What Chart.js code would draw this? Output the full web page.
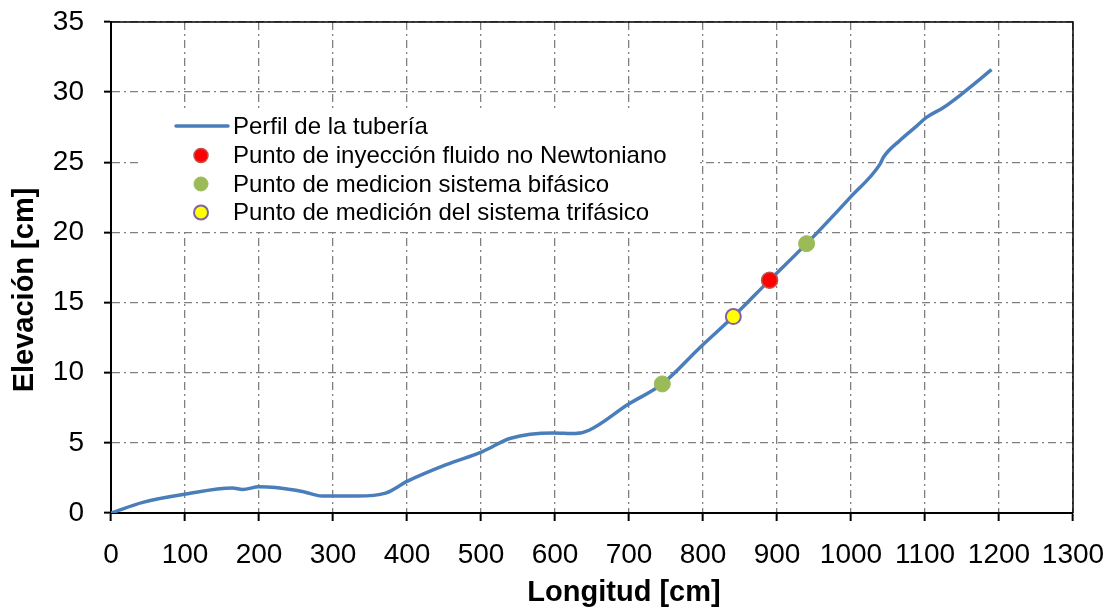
<!DOCTYPE html>
<html>
<head>
<meta charset="utf-8">
<script src="https://cdn.jsdelivr.net/npm/chart.js@4/dist/chart.umd.min.js"></script>
<style>
  html, body { margin: 0; padding: 0; background: #fff; }
  #wrap { width: 1112px; height: 614px; }
</style>
</head>
<body>
<div id="wrap"><canvas id="c" width="1112" height="614"></canvas></div>
<script>
// ---- Data ----
const profileX = [0, 43, 101, 164, 178, 200, 222, 260, 285, 333, 371, 400, 453, 502, 540, 598, 627, 646, 699, 745, 796, 841, 890, 940, 999, 1039, 1044, 1066, 1089, 1102, 1125, 1147, 1190];
const profileY = [0, 0.76, 1.35, 1.78, 1.68, 1.87, 1.82, 1.52, 1.21, 1.21, 1.42, 2.25, 3.44, 4.38, 5.33, 5.71, 5.66, 5.90, 7.75, 9.2, 11.8, 14.0, 16.6, 19.2, 22.5, 24.85, 25.37, 26.56, 27.6, 28.2, 28.9, 29.76, 31.6];

const injectionX = [890];
const injectionY = [16.6];
const biphasicX = [745, 940];
const biphasicY = [9.2, 19.2];
const triphasicX = [841];
const triphasicY = [14.0];

const seriesNames = [
  'Perfil de la tubería',
  'Punto de inyección fluido no Newtoniano',
  'Punto de medicion sistema bifásico',
  'Punto de medición del sistema trifásico'
];
const xTitle = 'Longitud [cm]';
const yTitle = 'Elevación [cm]';
const xMin = 0, xMax = 1300, xStep = 100;
const yMin = 0, yMax = 35, yStep = 5;

const toPts = (xs, ys) => xs.map((x, i) => ({ x: x, y: ys[i] }));

const FONT = "'Liberation Sans', Arial, sans-serif";
const BLUE = '#4a7ebb';
const GRID = '#808080';

const styles = [
  { type: 'line', color: BLUE },
  { type: 'dot', bg: '#ff0000', border: '#c0504d', bw: 1.5, r: 8 },
  { type: 'dot', bg: '#9bbb59', border: '#9bbb59', bw: 1, r: 8 },
  { type: 'dot', bg: '#ffff00', border: '#7f61a8', bw: 2, r: 7.5 }
];

const decor = {
  id: 'decor',
  beforeDatasetsDraw(chart) {
    // white legend background hiding the grid behind it
    const ctx = chart.ctx;
    ctx.save();
    ctx.fillStyle = '#fff';
    ctx.fillRect(138, 108, 562, 120);
    ctx.restore();
  },
  afterDraw(chart) {
    const ctx = chart.ctx;
    const a = chart.chartArea;
    ctx.save();
    // top & right frame
    ctx.strokeStyle = '#000';
    ctx.lineWidth = 1.5;
    ctx.setLineDash([]);
    ctx.beginPath();
    ctx.moveTo(a.left, a.top);
    ctx.lineTo(a.right, a.top);
    ctx.lineTo(a.right, a.bottom);
    ctx.stroke();

    // axis titles
    ctx.fillStyle = '#000';
    ctx.font = 'bold 29px ' + FONT;
    ctx.textAlign = 'center';
    ctx.textBaseline = 'middle';
    ctx.fillText(xTitle, 624, 593);
    ctx.save();
    ctx.translate(25, 290);
    ctx.rotate(-Math.PI / 2);
    ctx.fillText(yTitle, 0, 0);
    ctx.restore();

    // legend
    const rowsY = [126, 155.5, 184, 212.5];
    ctx.font = '24px ' + FONT;
    ctx.textAlign = 'left';
    ctx.textBaseline = 'middle';
    seriesNames.forEach((name, i) => {
      const s = styles[i];
      const y = rowsY[i];
      if (s.type === 'line') {
        ctx.strokeStyle = s.color;
        ctx.lineWidth = 3.5;
        ctx.lineCap = 'round';
        ctx.beginPath();
        ctx.moveTo(176, y);
        ctx.lineTo(228, y);
        ctx.stroke();
      } else {
        ctx.beginPath();
        ctx.arc(201, y, 7, 0, Math.PI * 2);
        ctx.fillStyle = s.bg;
        ctx.fill();
        ctx.lineWidth = s.bw;
        ctx.strokeStyle = s.border;
        ctx.stroke();
      }
      ctx.fillStyle = '#000';
      ctx.fillText(name, 233, y + 1);
    });
    ctx.restore();
  }
};

new Chart(document.getElementById('c'), {
  type: 'scatter',
  data: {
    datasets: [
      {
        label: seriesNames[0],
        data: toPts(profileX, profileY),
        showLine: true,
        borderColor: BLUE,
        borderWidth: 3.5,
        pointRadius: 0,
        cubicInterpolationMode: 'monotone',
        fill: false,
        order: 3
      },
      {
        label: seriesNames[1],
        data: toPts(injectionX, injectionY),
        backgroundColor: styles[1].bg,
        borderColor: styles[1].border,
        borderWidth: styles[1].bw,
        pointRadius: styles[1].r,
        order: 0
      },
      {
        label: seriesNames[2],
        data: toPts(biphasicX, biphasicY),
        backgroundColor: styles[2].bg,
        borderColor: styles[2].border,
        borderWidth: styles[2].bw,
        pointRadius: styles[2].r,
        order: 1
      },
      {
        label: seriesNames[3],
        data: toPts(triphasicX, triphasicY),
        backgroundColor: styles[3].bg,
        borderColor: styles[3].border,
        borderWidth: styles[3].bw,
        pointRadius: styles[3].r,
        order: 0
      }
    ]
  },
  options: {
    responsive: false,
    animation: false,
    devicePixelRatio: 1,
    layout: { padding: { left: 0, top: 22, right: 39, bottom: 0 } },
    plugins: {
      legend: { display: false },
      tooltip: { enabled: false },
      title: { display: false }
    },
    scales: {
      x: {
        type: 'linear',
        min: xMin, max: xMax,
        afterFit(scale) {
          scale.height = 101;
          scale.paddingLeft = 0;
          scale.paddingRight = 0;
        },
        ticks: {
          stepSize: xStep,
          color: '#000',
          font: { family: FONT, size: 28 },
          padding: 17,
          maxRotation: 0,
          autoSkip: false,
          callback: (v) => String(v)
        },
        grid: {
          color: GRID,
          lineWidth: 1.3,
          drawTicks: true,
          tickLength: 8,
          tickColor: '#000',
          tickWidth: 2,
          tickBorderDash: []
        },
        border: { display: true, color: '#000', width: 2, dash: [8, 4, 2, 4] }
      },
      y: {
        type: 'linear',
        min: yMin, max: yMax,
        afterFit(scale) {
          scale.width = 111;
          scale.paddingTop = 0;
          scale.paddingBottom = 0;
        },
        ticks: {
          stepSize: yStep,
          color: '#000',
          font: { family: FONT, size: 28 },
          padding: 20,
          callback: (v) => String(v)
        },
        grid: {
          color: GRID,
          lineWidth: 1.3,
          drawTicks: true,
          tickLength: 7,
          tickColor: '#000',
          tickWidth: 2,
          tickBorderDash: []
        },
        border: { display: true, color: '#000', width: 2, dash: [8, 4, 2, 4] }
      }
    }
  },
  plugins: [decor]
});
</script>
</body>
</html>
